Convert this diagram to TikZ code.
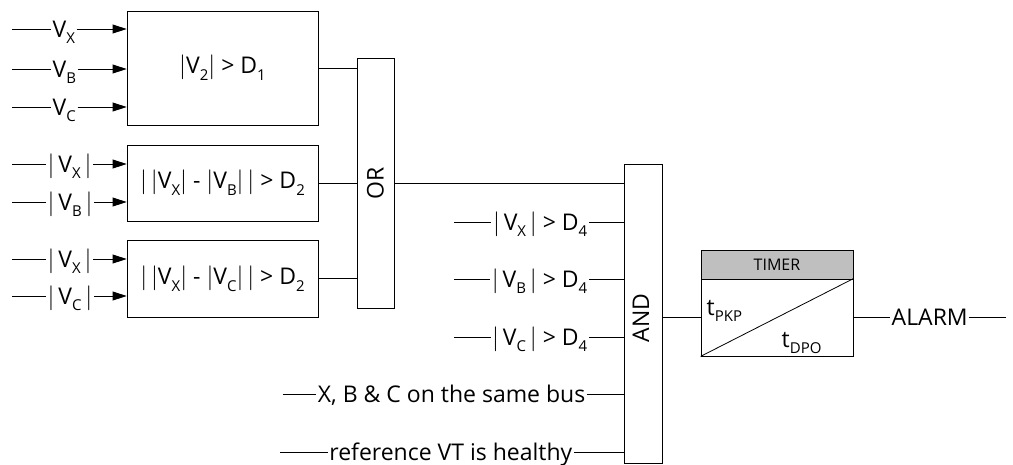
\documentclass[tikz,border=0pt]{standalone}
\usepackage{fontspec}
\setmainfont{Open Sans}
\usetikzlibrary{arrows.meta}
\newcommand\lo[1]{\raisebox{-0.3em}{\fontsize{15}{15}\selectfont #1}}
\begin{document}
\begin{tikzpicture}[x=1pt,y=-1pt,
  font=\fontsize{23}{26}\selectfont,
  blk/.style={draw, line width=0.8pt, inner sep=0pt},
  lblw/.style={inner sep=1.5pt, anchor=base west},
  lble/.style={inner sep=1.5pt, anchor=base east},
  wire/.style={line width=0.8pt},
  arr/.style={wire,-{Triangle[length=14pt,width=9pt]}}]
\useasboundingbox (0,0) rectangle (1013,464);

% blocks
\node[blk, minimum width=191pt, minimum height=114pt] (b1) at (222.5,68) {$|$V\lo{2}$|$ > D\lo{1}};
\node[blk, minimum width=191pt, minimum height=76pt] (b2) at (222.5,183) {$|$\,$|$V\lo{X}$|$ - $|$V\lo{B}$|$\,$|$ > D\lo{2}};
\node[blk, minimum width=191pt, minimum height=77pt] (b3) at (222.5,278.5) {$|$\,$|$V\lo{X}$|$ - $|$V\lo{C}$|$\,$|$ > D\lo{2}};
\node[blk, minimum width=37pt, minimum height=250pt] (or) at (375.5,183) {};
\node[rotate=90] (ortxt) at (375.5,183) {OR};
\node[blk, minimum width=38pt, minimum height=299pt] (and) at (643,313.5) {};
\node[rotate=90] (andtxt) at (641,318) {AND};
\node[blk, fill=black!25, minimum width=152pt, minimum height=29pt] (th) at (777,264.5) {};
\node[font=\fontsize{16}{17}\selectfont] (thtxt) at (777,264.5) {TIMER};
\node[blk, minimum width=152pt, minimum height=77pt] (tb) at (777,317.5) {};
\draw[wire] (tb.south west) -- (tb.north east);
\node[lblw] (tpkp) at (705,315) {t\lo{PKP}};
\node[lblw] (tdpo) at (780,347) {t\lo{DPO}};

% box 1 inputs
\foreach \n/\y/\s in {1/29/X,2/69/B,3/107/C}{
  \coordinate (s1\n) at (12,\y);
  \node[lblw] (l1\n) at (51,\y+8) {V\lo{\s}};
  \draw[wire] (s1\n) -- (s1\n -| l1\n.west);
  \draw[arr] (s1\n -| l1\n.east) -- (s1\n -| b1.west);
}
% box 2 inputs
\foreach \n/\y/\s in {1/164/X,2/202/B}{
  \coordinate (s2\n) at (12,\y);
  \node[lblw] (l2\n) at (46,\y+8) {$|$\,V\lo{\s}\,$|$};
  \draw[wire] (s2\n) -- (s2\n -| l2\n.west);
  \draw[arr] (s2\n -| l2\n.east) -- (s2\n -| b2.west);
}
% box 3 inputs
\foreach \n/\y/\s in {1/259/X,2/296/C}{
  \coordinate (s3\n) at (12,\y);
  \node[lblw] (l3\n) at (46,\y+8) {$|$\,V\lo{\s}\,$|$};
  \draw[wire] (s3\n) -- (s3\n -| l3\n.west);
  \draw[arr] (s3\n -| l3\n.east) -- (s3\n -| b3.west);
}
% to OR
\draw[wire] (b1.east) -- (b1.east -| or.west);
\draw[wire] (b2.east) -- (b2.east -| or.west);
\draw[wire] (b3.east) -- (b3.east -| or.west);
\draw[wire] (or.east) -- (or.east -| and.west);

% AND inputs
\foreach \n/\y/\s in {1/222/X,2/279/B,3/337/C}{
  \coordinate (a\n) at (454,\y);
  \node[lble] (la\n) at (589,\y+8) {$|$\,V\lo{\s}\,$|$ > D\lo{4}};
  \draw[wire] (a\n) -- (a\n -| la\n.west);
  \draw[wire] (a\n -| la\n.east) -- (a\n -| and.west);
}
\coordinate (a4) at (283,394);
\node[lble] (la4) at (587,402) {X, B \& C on the same bus};
\draw[wire] (a4) -- (a4 -| la4.west);
\draw[wire] (a4 -| la4.east) -- (a4 -| and.west);
\coordinate (a5) at (280,452);
\node[lble] (la5) at (574,460) {reference VT is healthy};
\draw[wire] (a5) -- (a5 -| la5.west);
\draw[wire] (a5 -| la5.east) -- (a5 -| and.west);

% AND to timer
\draw[wire] (tb.west -| and.east) -- (tb.west);
% output
\node[lblw] (alarm) at (890,325.5) {ALARM};
\coordinate (oend) at (1006,317.5);
\draw[wire] (tb.east) -- (tb.east -| alarm.west);
\draw[wire] (tb.east -| alarm.east) -- (oend);
\end{tikzpicture}
\end{document}
